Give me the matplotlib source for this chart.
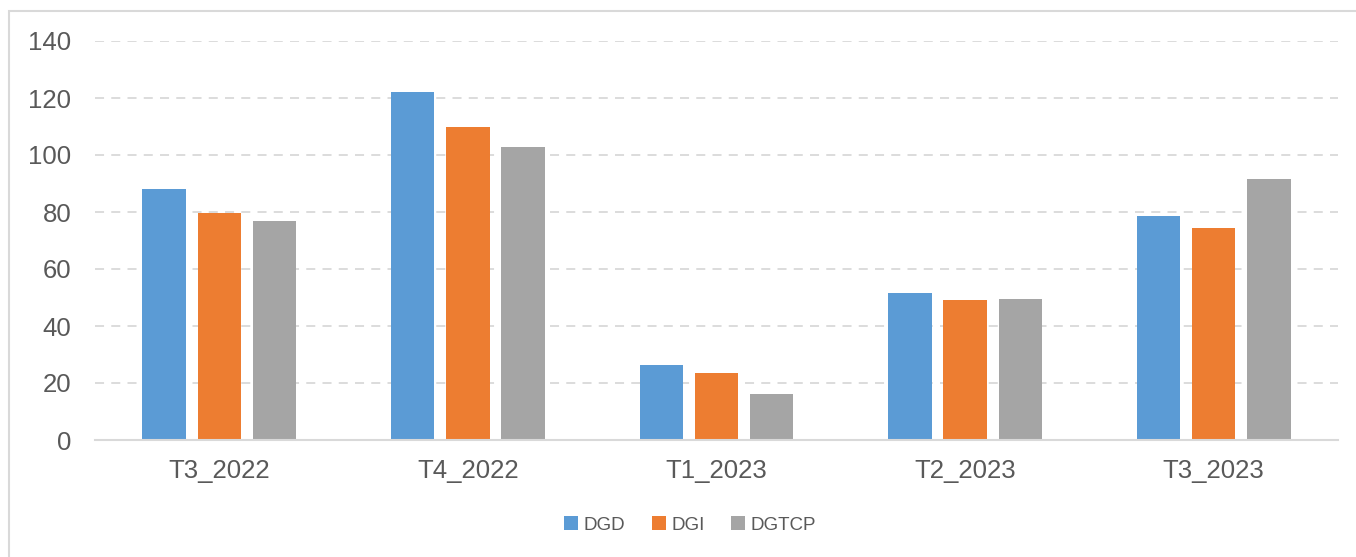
import numpy as np
import matplotlib.pyplot as plt
from matplotlib.patches import Rectangle

plt.rcParams['font.family'] = ['Liberation Sans', 'DejaVu Sans']

categories = ['T3_2022', 'T4_2022', 'T1_2023', 'T2_2023', 'T3_2023']
series = ['DGD', 'DGI', 'DGTCP']
dgd = [88.1, 122.2, 26.2, 51.7, 78.6]
dgi = [79.8, 109.9, 23.6, 49.2, 74.4]
dgtcp = [76.9, 102.9, 16.2, 49.4, 91.7]
colors = ['#5B9BD5', '#ED7D31', '#A5A5A5']
yticks = [0, 20, 40, 60, 80, 100, 120, 140]

fig = plt.figure(figsize=(13.56, 5.57), dpi=100)
ax = fig.add_axes([95 / 1356, 1 - 440 / 557, (1338 - 95) / 1356, (440 - 41) / 557])

x = np.arange(len(categories))
width = 0.174
step = 0.222
for i, (name, vals) in enumerate(zip(series, [dgd, dgi, dgtcp])):
    ax.bar(x + (i - 1) * step, vals, width, color=colors[i], label=name, zorder=3)

ax.set_xlim(-0.5, len(categories) - 0.5)
ax.set_ylim(0, 140)
ax.set_yticks(yticks)
ax.set_xticks(x)
ax.set_xticklabels(categories)
ax.tick_params(axis='both', length=0, labelsize=18.5, labelcolor='#595959')
ax.tick_params(axis='y', pad=17)
ax.tick_params(axis='x', pad=14)
ax.grid(axis='y', color='#D9D9D9', linestyle=(0, (5, 4)), linewidth=1.3, zorder=0)
for s in ['top', 'right', 'left']:
    ax.spines[s].set_visible(False)
ax.spines['bottom'].set_color('#D9D9D9')
ax.spines['bottom'].set_linewidth(1.5)
ax.spines['bottom'].set_zorder(4)

leg = fig.legend(loc='center', bbox_to_anchor=(690 / 1356, 1 - 525 / 557), ncol=3,
                 frameon=False, fontsize=13.5, handlelength=0.75, handleheight=0.75,
                 handletextpad=0.3, columnspacing=1.4)
for t in leg.get_texts():
    t.set_color('#595959')

fig.patches.append(Rectangle((9 / 1356, -0.1), 1.1, 1.1 - 11 / 557, transform=fig.transFigure,
                             fill=False, edgecolor='#D9D9D9', linewidth=1.5))

fig.savefig('out.png', dpi=100)
